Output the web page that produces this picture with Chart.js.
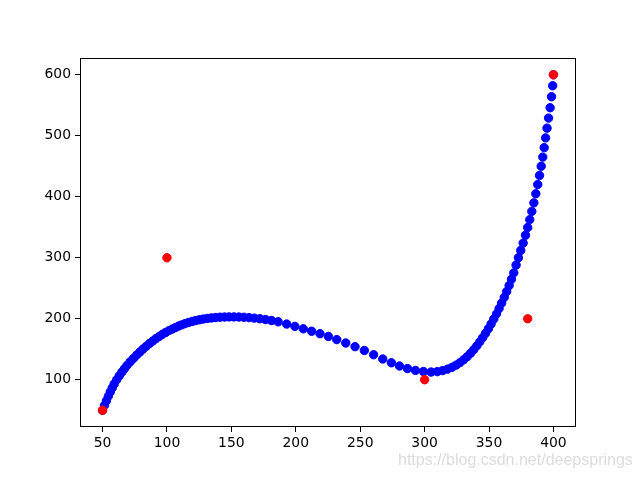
<!DOCTYPE html>
<html>
<head>
<meta charset="UTF-8">
<title>Curve points</title>
<script src="https://cdn.jsdelivr.net/npm/chart.js"></script>
<style>
    body { margin: 0; background: #fff; }
    .wrap { position: relative; width: 640px; height: 480px; }
    .mark {
        position: absolute;
        left: 398px;
        top: 451px;
        font: 16px "Liberation Sans", Arial, sans-serif;
        color: #dcdcdc;
        white-space: nowrap;
    }
</style>
</head>
<body>
<div class="wrap">
    <canvas id="chart" width="640" height="480"></canvas>
    <div class="mark">https://blog.csdn.net/deepsprings</div>
</div>
<script>
    // tick labels
    const xTicks = [50, 100, 150, 200, 250, 300, 350, 400];
    const yTicks = [100, 200, 300, 400, 500, 600];

    // red control points
    const redX = [50, 100, 300, 380, 400];
    const redY = [50, 300, 100, 200, 600];

    // blue curve points
    const blueX = [50, 51.5, 53, 54.5, 56, 57.5, 59, 61, 63, 65, 67, 69, 71.5, 74, 76.5, 79, 81.5, 84, 86.5, 89,
        91.5, 94, 96.5, 99, 101.5, 104, 106.5, 109, 111.5, 114, 116.7, 119.5, 122.3, 125.2, 128.2, 131.3, 134.5,
        137.8, 141.2, 144.7, 148.3, 152, 155.8, 159.7, 163.7, 167.8, 172, 176.5, 181.2, 186.3, 192.9, 199.3,
        205.8, 212.3, 218.8, 225.3, 231.8, 238.8, 246, 253.2, 260.4, 267.5, 274.2, 280.5, 286.7, 292.9, 299.1,
        305, 309.8, 314, 317.8, 321.3, 324.5, 327.5, 330.3, 333, 335.6, 338.1, 340.5, 342.8, 345.1, 347.3, 349.5,
        351.6, 353.7, 355.8, 357.8, 359.8, 361.8, 363.7, 365.6, 367.4, 369.2, 371, 372.8, 374.6, 376.5, 378.3,
        380, 381.6, 383.2, 384.8, 386.3, 387.8, 389.2, 390.5, 391.7, 392.8, 393.9, 395, 396.2, 397.4, 398.5,
        399.4, 400];
    const blueY = [50, 58, 65.5, 73, 80, 86.5, 93, 100, 106.5, 112.5, 118, 123.5, 129.5, 135, 140.5, 145.5, 150.5,
        155, 159.5, 163.5, 167.5, 171, 174.5, 177.5, 180.5, 183, 185.5, 188, 190, 192, 193.8, 195.5, 197, 198.3,
        199.5, 200.5, 201.3, 202, 202.5, 202.8, 203, 203, 202.8, 202.4, 201.8, 201, 200, 198.7, 197.1, 195,
        191.3, 187.5, 183.5, 179.5, 175.5, 171, 165.8, 160.2, 154.2, 148, 141, 134, 127.8, 122.5, 118.3, 115.3,
        113.4, 112.6, 113.3, 115, 117.4, 120.4, 124, 128.1, 132.7, 137.8, 143.3, 149.2, 155.5, 162.1, 169, 176.2,
        183.7, 191.5, 199.6, 208, 216.7, 225.7, 235, 244.6, 254.5, 264.7, 275.2, 288, 300, 312, 324, 337, 349.5,
        362.5, 376, 390, 405, 420, 435, 450, 465, 480.5, 496.5, 512.5, 529, 546, 564, 582, 600];

    const toPoints = (xs, ys) => xs.map((x, i) => ({ x: x, y: ys[i] }));

    // box around the plot area, like matplotlib spines
    const frame = {
        id: 'frame',
        afterDraw(chart) {
            const a = chart.chartArea;
            const ctx = chart.ctx;
            ctx.save();
            ctx.strokeStyle = '#000';
            ctx.lineWidth = 1;
            ctx.strokeRect(Math.round(a.left) + 0.5, Math.round(a.top) + 0.5,
                Math.round(a.right - a.left) - 1, Math.round(a.bottom - a.top) - 1);
            ctx.restore();
        }
    };

    Chart.defaults.font.family = '"DejaVu Sans", sans-serif';
    Chart.defaults.font.size = 13.9;
    Chart.defaults.color = '#000';

    new Chart(document.getElementById('chart'), {
        type: 'scatter',
        data: {
            datasets: [
                {
                    data: toPoints(redX, redY),
                    backgroundColor: '#ff0000',
                    borderColor: '#ff0000',
                    borderWidth: 1,
                    pointRadius: 4.2
                },
                {
                    data: toPoints(blueX, blueY),
                    backgroundColor: '#0000ff',
                    borderColor: '#0000ff',
                    borderWidth: 1,
                    pointRadius: 4.2
                }
            ]
        },
        options: {
            responsive: false,
            animation: false,
            layout: { padding: { top: 58, right: 64, left: 0, bottom: 0 } },
            plugins: {
                legend: { display: false },
                tooltip: { enabled: false }
            },
            scales: {
                x: {
                    type: 'linear',
                    min: 32.5,
                    max: 417.5,
                    afterBuildTicks: s => { s.ticks = xTicks.map(v => ({ value: v })); },
                    afterFit: s => { s.height = 53; },
                    border: { display: false },
                    grid: { drawOnChartArea: false, color: '#000', tickLength: 5 },
                    ticks: { padding: 3, maxRotation: 0 }
                },
                y: {
                    type: 'linear',
                    min: 22.5,
                    max: 627.5,
                    afterBuildTicks: s => { s.ticks = yTicks.map(v => ({ value: v })); },
                    afterFit: s => { s.width = 80; },
                    border: { display: false },
                    grid: { drawOnChartArea: false, color: '#000', tickLength: 5 },
                    ticks: { padding: 4 }
                }
            }
        },
        plugins: [frame]
    });
</script>
</body>
</html>
